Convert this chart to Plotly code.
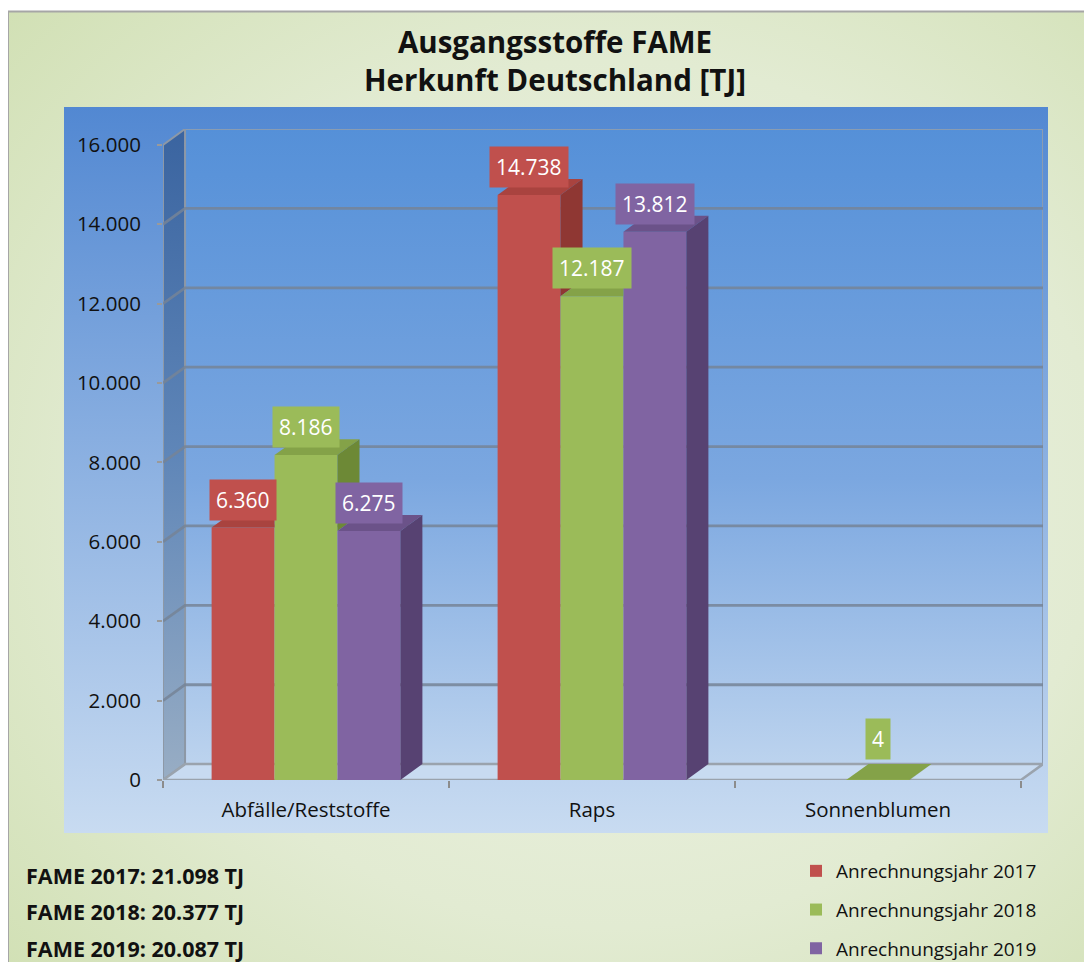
import base64
import plotly.graph_objects as go

# ---------------- data ----------------
categories = ["Abfälle/Reststoffe", "Raps", "Sonnenblumen"]
series_names = ["Anrechnungsjahr 2017", "Anrechnungsjahr 2018", "Anrechnungsjahr 2019"]
values_2017 = [6360, 14738, None]
values_2018 = [8186, 12187, 4]
values_2019 = [6275, 13812, None]
y_ticks = [0, 2000, 4000, 6000, 8000, 10000, 12000, 14000, 16000]
y_tick_labels = ["0", "2.000", "4.000", "6.000", "8.000", "10.000", "12.000", "14.000", "16.000"]
totals_text = ["FAME 2017: 21.098 TJ", "FAME 2018: 20.377 TJ", "FAME 2019: 20.087 TJ"]
title_text = "Ausgangsstoffe FAME<br>Herkunft Deutschland [TJ]"

# ---------------- style ----------------
OFF = 8                      # page body margin of the browser
W, H = 1092 - OFF, 962 - OFF
L, R, T, B = 163 - OFF, 49, 129 - OFF, 182
PW, PH = W - L - R, H - T - B
FONT = "Open Sans"
front_colors = ["#c0504d", "#9bbb59", "#8064a2"]
top_colors = ["#a9433f", "#84a248", "#6b5289"]
side_colors = ["#8f3733", "#6d8936", "#574272"]

DX = 0.077          # 3D depth (x data units)
DY = 400            # 3D depth (y data units)
BW = 0.22           # bar width
XMIN, XMAX = -0.5, 2.5 + DX
YMAX = 16000 + DY
NCAT = len(categories)
YTOP = y_ticks[-1]


def px_x(px):   # screen px -> paper
    return (px - OFF - L) / PW


def px_y(py):
    return (H - B - (py - OFF)) / PH


def cx(px):     # screen px -> container
    return (px - OFF) / W


def cy(py):
    return 1 - (py - OFF) / H


all_values = [values_2017, values_2018, values_2019]
offsets = [-BW, 0.0, BW]

fig = go.Figure()

# ---------- background (walls, floor, gridlines) on base subplot ----------
fig.add_trace(go.Scatter(
    x=[XMIN + DX, XMAX, XMAX, XMIN + DX, XMIN + DX],
    y=[DY, DY, YTOP + DY, YTOP + DY, DY],
    mode="lines", fill="toself",
    fillgradient=dict(type="vertical", colorscale=[[0, "#bcd3ee"], [0.45, "#7ba7e0"], [1, "#5590d8"]]),
    line=dict(color="#8a9cb2", width=2), hoverinfo="skip", showlegend=False))
fig.add_trace(go.Scatter(
    x=[XMIN, XMIN, XMIN + DX, XMIN + DX, XMIN],
    y=[0, YTOP, YTOP + DY, DY, 0],
    mode="lines", fill="toself",
    fillgradient=dict(type="vertical", colorscale=[[0, "#98adc4"], [0.5, "#5f86b8"], [1, "#3a64a0"]]),
    line=dict(color="#8d98a6", width=2), hoverinfo="skip", showlegend=False))
fig.add_trace(go.Scatter(
    x=[XMIN, XMIN + NCAT, XMIN + NCAT + DX, XMIN + DX, XMIN],
    y=[0, 0, DY, DY, 0],
    mode="lines", fill="toself", fillcolor="#c8dbf1",
    line=dict(color="#9aa3ad", width=2.5), hoverinfo="skip", showlegend=False))
gx, gy = [], []
for v in y_ticks[1:-1]:
    gx += [XMIN, XMIN + DX, XMAX, None]
    gy += [v, v + DY, v + DY, None]
fig.add_trace(go.Scatter(x=gx, y=gy, mode="lines",
                         line=dict(color="rgba(118,132,150,0.85)", width=2.8),
                         hoverinfo="skip", showlegend=False))

# ---------- bars + 3D faces on overlay subplot ----------
for s, (name, vals) in enumerate(zip(series_names, all_values)):
    xs = [i + offsets[s] for i in range(NCAT)]
    fig.add_trace(go.Bar(
        x=xs, y=vals, width=BW, name=name, marker=dict(color=front_colors[s], line=dict(width=0)),
        legendgroup=name, xaxis="x2", yaxis="y2"))

for s, vals in enumerate(all_values):
    for i in range(NCAT):
        v = vals[i]
        if v is None:
            continue
        xl = i + offsets[s] - BW / 2
        xr = xl + BW
        nb = all_values[s + 1][i] if s + 1 < len(all_values) else None
        n = nb if nb is not None else 0
        t = min(max((n - v) / DY, 0.0), 1.0) if nb is not None else 0.0
        tx = [xl, xl + DX, xr + DX, xr + DX * t, xr, xr, xl]
        ty = [v, v + DY, v + DY, v + DY * t, v + DY * t, v, v]
        fig.add_trace(go.Scatter(x=tx, y=ty, mode="lines", fill="toself",
                                 fillcolor=top_colors[s], line=dict(width=0),
                                 hoverinfo="skip", showlegend=False, xaxis="x2", yaxis="y2"))
        if v > n:
            sx = [xr, xr, xr + DX, xr + DX, xr]
            sy = [n, v, v + DY, n + DY, n]
            fig.add_trace(go.Scatter(x=sx, y=sy, mode="lines", fill="toself",
                                     fillcolor=side_colors[s], line=dict(width=0),
                                     hoverinfo="skip", showlegend=False, xaxis="x2", yaxis="y2"))

# ---------- data labels ----------
annotations = []
for s, vals in enumerate(all_values):
    for i in range(NCAT):
        v = vals[i]
        if v is None:
            continue
        annotations.append(dict(
            x=i + offsets[s], y=v, xref="x2", yref="y2",
            text=f"{v:,}".replace(",", "."), showarrow=False,
            yanchor="bottom", xanchor="center", yshift=7 if v > 500 else 20,
            font=dict(family=FONT, size=21, color="white"),
            bgcolor=front_colors[s], borderpad=6))

for k, txt in enumerate(totals_text):
    annotations.append(dict(
        x=px_x(24), y=px_y(875 + 36.5 * k), xref="paper", yref="paper",
        text=f"<b>{txt}</b>", showarrow=False, xanchor="left", yanchor="middle",
        font=dict(family=FONT, size=21.5, color="#111111")))

# ---------- background images (gradients) ----------
svg = f"""<svg xmlns='http://www.w3.org/2000/svg' width='{W}' height='{H}'>
<defs>
<radialGradient id='g' cx='0.55' cy='0.5' r='0.75'>
<stop offset='0' stop-color='#eef3e6'/><stop offset='0.6' stop-color='#e2ebd2'/><stop offset='1' stop-color='#d1e0b4'/>
</radialGradient>
<linearGradient id='b' x1='0' y1='0' x2='0' y2='1'>
<stop offset='0' stop-color='#5288d2'/><stop offset='1' stop-color='#c8dbf1'/>
</linearGradient>
</defs>
<rect x='0' y='0' width='{W}' height='{H}' fill='white'/>
<rect x='0' y='3.5' width='{W + 10}' height='{H + 10}' fill='url(#g)' stroke='#a6a6a6' stroke-width='2'/>
<rect x='{64 - OFF}' y='{107 - OFF}' width='984' height='726' fill='url(#b)'/>
</svg>"""
src = "data:image/svg+xml;base64," + base64.b64encode(svg.encode("utf-8")).decode("ascii")

fig.update_layout(
    width=W, height=H,
    margin=dict(l=L, r=R, t=T, b=B, autoexpand=False),
    paper_bgcolor="white", plot_bgcolor="rgba(0,0,0,0)",
    barmode="overlay",
    showlegend=True,
    font=dict(family=FONT, color="#111111"),
    title=dict(text=f"<b>{title_text}</b>", x=cx(555), xanchor="center",
               xref="container", yref="container", y=cy(53), yanchor="top",
               font=dict(family=FONT, size=29.5, color="#111111")),
    xaxis=dict(range=[XMIN, XMAX], tickvals=list(range(NCAT)), ticktext=categories,
               showgrid=False, zeroline=False, showline=False, ticks="",
               tickfont=dict(family=FONT, size=20.5, color="#111111"), ticklabelstandoff=15,
               minor=dict(tickvals=[XMIN + k for k in range(NCAT + 1)], ticks="outside",
                          ticklen=7, tickcolor="#8c8c8c", tickwidth=1.5),
               fixedrange=True),
    yaxis=dict(range=[0, YMAX], tickvals=y_ticks, ticktext=y_tick_labels,
               showgrid=False, zeroline=False, showline=False,
               ticks="outside", ticklen=5, tickcolor="#9a9a9a", tickwidth=1.5,
               tickfont=dict(family=FONT, size=20.5, color="#111111"), ticklabelstandoff=12,
               fixedrange=True),
    xaxis2=dict(range=[XMIN, XMAX], overlaying="x", visible=False, fixedrange=True),
    yaxis2=dict(range=[0, YMAX], overlaying="y", visible=False, fixedrange=True),
    legend=dict(xref="container", yref="container", x=cx(796), y=cy(852),
                xanchor="left", yanchor="top", bgcolor="rgba(0,0,0,0)",
                font=dict(family=FONT, size=19, color="#111111"),
                tracegroupgap=11, itemclick=False, itemdoubleclick=False),
    annotations=annotations,
    images=[dict(source=src, xref="paper", yref="paper", x=-L / PW, y=1 + T / PH,
                 sizex=W / PW, sizey=H / PH, xanchor="left", yanchor="top",
                 sizing="stretch", layer="below")],
)

fig.write_html("out.html")
